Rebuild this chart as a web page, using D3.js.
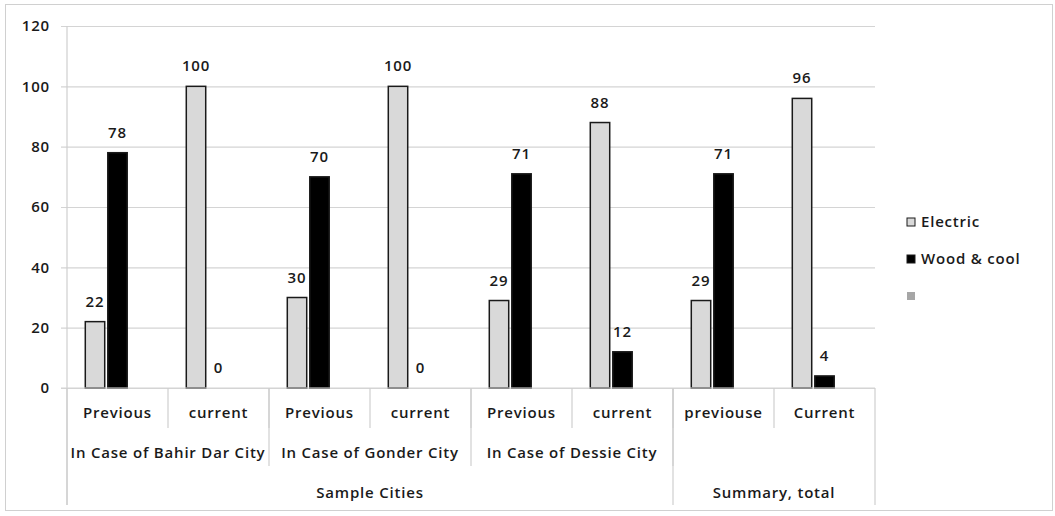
<!DOCTYPE html>
<html>
<head>
<meta charset="utf-8">
<script src="https://cdn.jsdelivr.net/npm/d3@7"></script>
<style>
  html, body { margin: 0; padding: 0; background: #fff; }
  svg text { font-family: "Open Sans", "Noto Sans", sans-serif; fill: #1a1a1a; font-size: 15px; font-weight: 600; letter-spacing: 0.8px; }
</style>
</head>
<body>
<svg id="chart" width="1055" height="516"></svg>
<script>
// Categories: period, city group, top-level group
const periods = ["Previous", "current", "Previous", "current", "Previous", "current", "previouse", "Current"];
const cityGroups = [
  { label: "In Case of Bahir Dar City", from: 0, to: 2 },
  { label: "In Case of Gonder City", from: 2, to: 4 },
  { label: "In Case of Dessie City", from: 4, to: 6 },
  { label: "", from: 6, to: 8 }
];
const topGroups = [
  { label: "Sample Cities", from: 0, to: 6 },
  { label: "Summary, total", from: 6, to: 8 }
];

// Series
const seriesNames = ["Electric", "Wood & cool", ""];
const electric = [22, 100, 30, 100, 29, 88, 29, 96];
const woodCool = [78, 0, 70, 0, 71, 12, 71, 4];
const blankSeries = [null, null, null, null, null, null, null, null];
const seriesValues = [electric, woodCool, blankSeries];
const seriesFill = ["#d9d9d9", "#000000", "#a6a6a6"];

const yTicks = [0, 20, 40, 60, 80, 100, 120];

const svg = d3.select("#chart");
const W = 1055, H = 516;

// chart frame
svg.append("rect")
  .attr("x", 5.5).attr("y", 4.5)
  .attr("width", W - 8).attr("height", H - 10)
  .attr("fill", "#fff").attr("stroke", "#d0d0d0").attr("stroke-width", 1);

const plot = { left: 67, right: 875, top: 26, bottom: 388 };

const x0 = d3.scaleBand()
  .domain(d3.range(periods.length))
  .range([plot.left, plot.right])
  .paddingInner(0).paddingOuter(0);

const x1 = d3.scaleBand()
  .domain(d3.range(seriesNames.length))
  .range([0, x0.bandwidth()])
  .paddingInner(0.07)
  .paddingOuter(0.78);

const y = d3.scaleLinear().domain([0, 120]).range([plot.bottom, plot.top]);

// gridlines with short tick stubs on the left
const grid = svg.append("g")
  .attr("transform", `translate(${plot.left},0)`)
  .call(d3.axisLeft(y).tickValues(yTicks).tickSize(-(plot.right - plot.left)).tickFormat(""));
grid.select(".domain").remove();
grid.selectAll(".tick line").attr("stroke", "#d4d4d4").attr("stroke-width", 1.2)
  .attr("x1", -6).attr("x2", plot.right - plot.left);

// y-axis labels
const yAxis = svg.append("g")
  .attr("transform", `translate(${plot.left},0)`)
  .call(d3.axisLeft(y).tickValues(yTicks).tickSize(0).tickPadding(17));
yAxis.select(".domain").remove();
yAxis.selectAll("text")
  .attr("font-size", null).attr("font-family", null)
  .style("font-size", "15px");

// vertical axis line
svg.append("line")
  .attr("x1", plot.left).attr("x2", plot.left)
  .attr("y1", plot.top).attr("y2", 505)
  .attr("stroke", "#cfcfcf").attr("stroke-width", 1.2);

// bars
const groups = svg.append("g").selectAll("g")
  .data(periods.map((p, i) => i))
  .join("g")
  .attr("transform", i => `translate(${x0(i)},0)`);

groups.selectAll("rect")
  .data(i => seriesValues.map((vals, s) => ({ s, v: vals[i] })).filter(d => d.v !== null))
  .join("rect")
  .attr("x", d => x1(d.s) + 0.75)
  .attr("width", x1.bandwidth() - 1.5)
  .attr("y", d => y(d.v))
  .attr("height", d => y(0) - y(d.v))
  .attr("fill", d => seriesFill[d.s])
  .attr("stroke", "#1a1a1a")
  .attr("stroke-width", 1.5);

// value labels
groups.selectAll("text.val")
  .data(i => seriesValues.map((vals, s) => ({ s, v: vals[i] })).filter(d => d.v !== null))
  .join("text")
  .attr("class", "val")
  .attr("x", d => x1(d.s) + x1.bandwidth() / 2)
  .attr("y", d => y(d.v) - 15)
  .attr("text-anchor", "middle")
  .text(d => d.v);

// category axis: dividers and labels
const edge = i => (i < periods.length ? x0(i) : plot.right);
const divider = (xPos, y2) => svg.append("line")
  .attr("x1", xPos).attr("x2", xPos).attr("y1", plot.bottom).attr("y2", y2)
  .attr("stroke", "#cfcfcf").attr("stroke-width", 1.2);

// bottom base line of plot
svg.append("line")
  .attr("x1", plot.left - 6).attr("x2", plot.right)
  .attr("y1", plot.bottom).attr("y2", plot.bottom)
  .attr("stroke", "#d4d4d4").attr("stroke-width", 1.2);

periods.forEach((p, i) => {
  if (i > 0) divider(edge(i), 428);
  svg.append("text")
    .attr("x", x0(i) + x0.bandwidth() / 2)
    .attr("y", 418)
    .attr("text-anchor", "middle")
    .text(p);
});

cityGroups.forEach(g => {
  if (g.from > 0) divider(edge(g.from), 466);
  svg.append("text")
    .attr("x", (edge(g.from) + edge(g.to)) / 2)
    .attr("y", 458)
    .attr("text-anchor", "middle")
    .text(g.label);
});

topGroups.forEach(g => {
  divider(edge(g.from), 505);
  svg.append("text")
    .attr("x", (edge(g.from) + edge(g.to)) / 2)
    .attr("y", 498)
    .attr("text-anchor", "middle")
    .text(g.label);
});
divider(plot.right, 505);

// legend
const legend = svg.append("g").attr("transform", "translate(907,222)");
seriesNames.forEach((name, s) => {
  const row = legend.append("g").attr("transform", `translate(0,${s * 37})`);
  row.append("rect")
    .attr("x", 0).attr("y", -4).attr("width", 8).attr("height", 8)
    .attr("fill", seriesFill[s])
    .attr("stroke", s === 2 ? "none" : "#1a1a1a").attr("stroke-width", 1);
  row.append("text")
    .attr("x", 14).attr("y", 5)
    .text(name);
});
</script>
</body>
</html>
